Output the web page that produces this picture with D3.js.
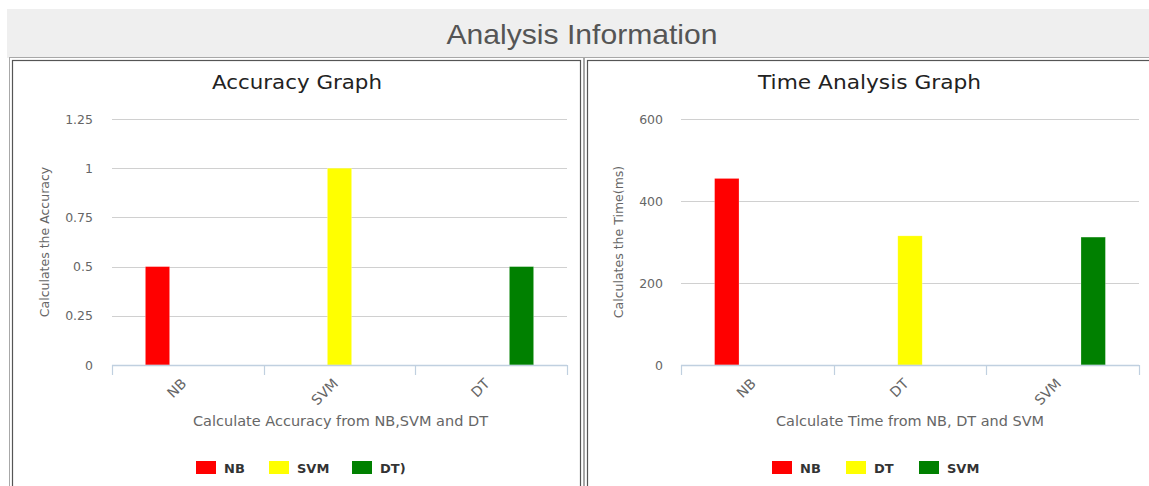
<!DOCTYPE html>
<html>
<head>
<meta charset="utf-8">
<script src="https://cdn.jsdelivr.net/npm/d3@7"></script>
<style>
  html, body { margin: 0; padding: 0; background: #fff; }
  svg { display: block; }
</style>
</head>
<body>
<svg id="page" width="1149" height="486"></svg>
<script>
// ---- data ----
const accCategories = ["NB", "SVM", "DT"];
const accSeries = ["NB", "SVM", "DT)"];
const accValues = [0.5, 1, 0.5];
const accTicks = [0, 0.25, 0.5, 0.75, 1, 1.25];
const accTickLabels = ["0", "0.25", "0.5", "0.75", "1", "1.25"];

const timeCategories = ["NB", "DT", "SVM"];
const timeSeries = ["NB", "DT", "SVM"];
const timeValues = [455, 315, 312];
const timeTicks = [0, 200, 400, 600];
const timeTickLabels = ["0", "200", "400", "600"];

const seriesColors = ["#ff0000", "#ffff00", "#008000"];

const svg = d3.select("#page");
const FONT = "DejaVu Sans, sans-serif";

// ---- page header ----
svg.append("rect").attr("x", 7).attr("y", 9).attr("width", 1142).attr("height", 49)
  .attr("fill", "#efefef");
svg.append("text").attr("x", 582).attr("y", 44).attr("text-anchor", "middle")
  .attr("font-family", "Liberation Sans, Arial, sans-serif").attr("font-size", 28)
  .attr("textLength", 271).attr("lengthAdjust", "spacingAndGlyphs")
  .attr("fill", "#555").text("Analysis Information");

// ---- panel frames (double border) ----
function panel(x0, x1) {
  svg.append("rect").attr("x", x0 + 0.5).attr("y", 57.5).attr("width", x1 - x0).attr("height", 440)
    .attr("fill", "#fff").attr("stroke", "#a8a8a8").attr("stroke-width", 1);
  svg.append("rect").attr("x", x0 + 3.5).attr("y", 60.5).attr("width", x1 - x0 - 6).attr("height", 440)
    .attr("fill", "none").attr("stroke", "#555").attr("stroke-width", 1.2);
}
panel(9, 583);
panel(584, 1160);

// ---- one column chart ----
function columnChart(cfg) {
  const g = svg.append("g");
  const y = d3.scaleLinear().domain(cfg.domain).range([365, 119]);
  const x = d3.scaleBand().domain(cfg.categories).range([cfg.left, cfg.right]).padding(0);
  const bw = x.bandwidth();
  const slot = d3.scaleBand().domain(cfg.series).range([0.2 * bw, 0.8 * bw]).padding(0);
  const sw = slot.bandwidth();

  // chart title
  g.append("text").attr("x", cfg.titleX).attr("y", 89).attr("text-anchor", "middle")
    .attr("font-family", FONT).attr("font-size", 20)
    .attr("textLength", cfg.titleWidth).attr("lengthAdjust", "spacingAndGlyphs")
    .attr("fill", "#222").text(cfg.title);

  // y labels
  const yAxis = d3.axisLeft(y).tickValues(cfg.ticks)
    .tickFormat((d, i) => cfg.tickLabels[i]).tickSize(0).tickPadding(0);
  const ya = g.append("g").attr("transform", `translate(${cfg.labelRight},0)`).call(yAxis);
  ya.select(".domain").remove();
  ya.selectAll("text").attr("font-family", FONT).attr("font-size", 12.5)
    .attr("fill", "#666");

  // gridlines
  g.append("g").selectAll("line").data(cfg.ticks.filter(t => t > 0)).join("line")
    .attr("x1", cfg.left).attr("x2", cfg.right)
    .attr("y1", d => Math.round(y(d)) + 0.5).attr("y2", d => Math.round(y(d)) + 0.5)
    .attr("stroke", "#d0d0d0").attr("stroke-width", 1);

  // y axis title
  g.append("text")
    .attr("transform", `translate(${cfg.yTitleX},242) rotate(-90)`)
    .attr("text-anchor", "middle").attr("dy", "0.35em")
    .attr("font-family", FONT).attr("font-size", 12.5)
    .attr("fill", "#666").text(cfg.yTitle);

  // bars: each series holds the value of its own category
  g.append("g").selectAll("rect").data(cfg.categories.map((c, i) => ({
      cat: c, ser: cfg.series[i], v: cfg.values[i], color: seriesColors[i]
    }))).join("rect")
    .attr("x", d => x(d.cat) + slot(d.ser) + 0.1 * sw)
    .attr("width", 0.8 * sw)
    .attr("y", d => y(d.v))
    .attr("height", d => y(0) - y(d.v))
    .attr("fill", d => d.color)
    .attr("stroke", "#fff").attr("stroke-opacity", 0.4).attr("stroke-width", 0.6);

  // x axis line and ticks
  const xa = g.append("g");
  xa.append("line").attr("x1", cfg.left).attr("x2", cfg.right)
    .attr("y1", 365.5).attr("y2", 365.5).attr("stroke", "#c0d0e0").attr("stroke-width", 1.5);
  const edges = cfg.categories.map(c => x(c)).concat([cfg.right]);
  xa.selectAll("line.tick").data(edges).join("line").attr("class", "tick")
    .attr("x1", d => Math.round(d) + 0.5).attr("x2", d => Math.round(d) + 0.5)
    .attr("y1", 365).attr("y2", 375).attr("stroke", "#c0d0e0").attr("stroke-width", 1.2);

  // rotated category labels
  xa.selectAll("text").data(cfg.categories).join("text")
    .attr("transform", d => `translate(${x(d) + bw / 2 - 4},381) rotate(-45)`)
    .attr("text-anchor", "end").attr("dy", "0.35em")
    .attr("font-family", FONT).attr("font-size", 14)
    .attr("fill", "#666").text(d => d);

  // x axis title
  g.append("text").attr("x", cfg.xTitleX).attr("y", 425.5)
    .attr("text-anchor", "middle")
    .attr("font-family", FONT).attr("font-size", 13.5)
    .attr("textLength", cfg.xTitleWidth).attr("lengthAdjust", "spacingAndGlyphs")
    .attr("fill", "#666").text(cfg.xTitle);

  // legend
  const lg = g.append("g");
  cfg.series.forEach((s, i) => {
    const lx = cfg.legendX[i];
    lg.append("rect").attr("x", lx).attr("y", 461).attr("width", 20).attr("height", 13)
      .attr("fill", seriesColors[i]);
    lg.append("text").attr("x", lx + 28).attr("y", 473)
      .attr("font-family", FONT).attr("font-size", 13)
      .attr("font-weight", "bold").attr("fill", "#333").text(s);
  });
}

columnChart({
  title: "Accuracy Graph", titleX: 297, titleWidth: 170,
  categories: accCategories, series: accSeries, values: accValues,
  domain: [0, 1.25], ticks: accTicks, tickLabels: accTickLabels,
  left: 112, right: 567, labelRight: 93, yTitleX: 45,
  yTitle: "Calculates the Accuracy",
  xTitle: "Calculate Accuracy from NB,SVM and DT", xTitleX: 340.5, xTitleWidth: 295,
  legendX: [196, 269, 352]
});

columnChart({
  title: "Time Analysis Graph", titleX: 869.5, titleWidth: 223,
  categories: timeCategories, series: timeSeries, values: timeValues,
  domain: [0, 600], ticks: timeTicks, tickLabels: timeTickLabels,
  left: 681, right: 1139, labelRight: 663, yTitleX: 619,
  yTitle: "Calculates the Time(ms)",
  xTitle: "Calculate Time from NB, DT and SVM", xTitleX: 910, xTitleWidth: 268,
  legendX: [772, 846, 919]
});
</script>
</body>
</html>
